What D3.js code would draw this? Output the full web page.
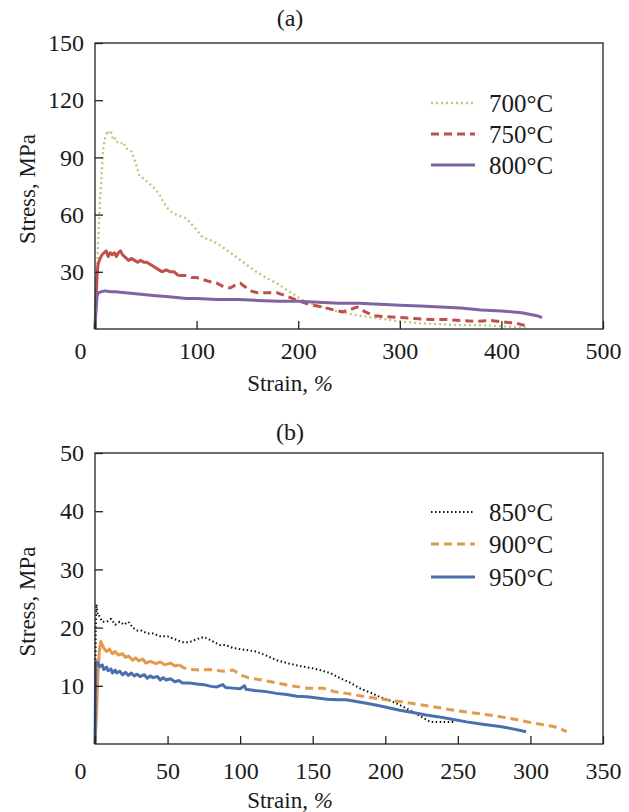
<!DOCTYPE html>
<html>
<head>
<meta charset="utf-8">
<script src="https://cdn.jsdelivr.net/npm/d3@7"></script>
<style>
  body { margin: 0; background: #fff; }
  text { font-family: "Liberation Serif", "Times New Roman", serif; fill: #1a1a1a; }
</style>
</head>
<body>
<script>
// panel (a): strain %, stress MPa
const s700 = [[0,0],[1,12],[2,27],[3,45],[5,68],[7,85],[8,94],[10,100],[12,104],[14,102],[16,103],[18,99],[20,100],[22,98],[25,97],[28,98],[30,95],[33,94],[36,93],[40,87],[44,80],[48,79],[52,77],[56,75],[60,73],[64,70],[68,66],[72,63],[76,61],[80,60],[85,59],[90,58],[95,55],[100,52],[106,48],[112,47],[120,45],[128,42],[136,39],[146,35],[156,31],[168,27],[179,24],[190,20],[205,15],[220,12],[240,9],[260,7],[280,5.5],[300,4],[320,3],[340,2.5],[360,2],[380,2],[400,1.5],[415,1],[425,0.5]];
const s750 = [[0,0],[1,15],[2,28],[3,34],[5,37],[7,39],[9,40],[11,41],[13,38],[15,40],[17,39],[19,40],[21,38],[23,40],[25,41],[27,39],[29,38],[31,37],[33,36],[36,37],[39,36],[42,35],[45,36],[48,35],[51,35],[54,34],[57,33],[60,32],[63,31],[66,30],[70,31],[74,30],[78,30],[82,28],[86,28],[90,28],[95,27],[100,27],[106,26],[112,25],[120,24],[127,22],[133,21.5],[138,23],[143,24],[148,22],[153,20],[160,19],[170,19],[179,19],[190,17],[199,15],[210,13],[224,11.5],[235,10],[244,9],[250,10],[258,11.5],[266,9],[274,7],[285,6.5],[300,6],[315,5.5],[330,5],[345,5],[360,4.5],[375,4],[390,4.5],[405,3.5],[415,3],[425,1.5]];
const s800 = [[0,0],[1,10],[2,17],[3,19],[6,19.5],[10,20],[15,19.5],[20,19.5],[30,19],[40,18.5],[50,18],[60,17.5],[70,17],[80,16.5],[90,16],[100,16],[120,15.5],[140,15.5],[160,15],[180,14.5],[200,14.5],[220,14],[240,13.5],[260,13.5],[280,13],[300,12.5],[320,12],[340,11.5],[360,11],[380,10],[400,9.5],[420,8.5],[435,7],[440,6]];

// panel (b)
const s850 = [[0,0],[0.5,20],[1,24],[2,22],[3,22],[5,21],[8,21],[11,21.5],[14,20.5],[17,21],[20,20.5],[23,21],[26,20],[29,19.5],[32,19.5],[36,19],[40,19],[45,18.5],[50,18.5],[55,18],[60,17.5],[65,17.5],[70,18],[75,18.4],[80,17.8],[86,17],[90,17],[95,16.5],[100,16.3],[111,15.9],[118,15.2],[125,14.4],[134,13.8],[143,13.3],[150,13],[155,12.7],[162,12.2],[169,11.3],[176,10.5],[183,9.5],[190,8.8],[197,8],[203,7.5],[210,6.7],[217,5.8],[224,4.8],[231,3.8],[240,3.8],[247,3.8]];
const s900 = [[0,0],[1,5],[2,12],[3,16],[4,17.6],[6,16.5],[8,15.9],[10,16.3],[12,15.5],[14,15.9],[16,15.3],[19,15.5],[21,14.9],[23,15.1],[26,14.4],[28,14.8],[30,14.3],[33,14.6],[35,13.9],[38,14.2],[42,13.8],[45,14.1],[48,13.6],[52,13.9],[55,13.4],[58,13.6],[61,13.1],[66,12.8],[72,12.7],[80,12.8],[88,12.5],[95,12.7],[101,11.8],[107,11.3],[115,11],[125,10.5],[135,10],[146,9.6],[157,9.6],[165,9],[173,8.7],[180,8.4],[187,8.1],[195,7.8],[203,7.5],[210,7.3],[220,6.9],[233,6.4],[245,5.9],[256,5.5],[268,5.1],[279,4.7],[290,4.2],[302,3.6],[309,3.3],[316,3],[321,2.6],[325,2.1]];
const s950 = [[0,0],[0.3,8],[0.6,14],[1.5,14.1],[3.4,13.3],[5,13.6],[6,12.8],[8,13.2],[9,12.6],[11,12.9],[12,12.2],[14,12.7],[15,12.2],[17,12.5],[19,11.9],[21,12.3],[23,11.8],[25,12.2],[27,11.7],[29,12],[31,11.6],[34,11.9],[36,11.3],[38,11.7],[40,11.4],[43,11.6],[45,11],[47,11.4],[49,11],[52,11.2],[55,10.7],[58,10.9],[60,10.5],[65,10.5],[70,10.3],[75,10.2],[80,9.9],[84,9.8],[88,10.2],[90,9.7],[95,9.6],[100,9.5],[103,10],[104,9.4],[110,9.2],[118,9],[125,8.7],[132,8.5],[139,8.2],[146,8.1],[153,7.9],[160,7.7],[167,7.6],[173,7.6],[180,7.3],[187,7],[195,6.6],[203,6.2],[210,5.8],[219,5.4],[228,5],[236,4.7],[245,4.3],[256,3.8],[267,3.4],[279,3],[288,2.6],[297,2.1]];

const xTicksA = [0, 100, 200, 300, 400, 500];
const yTicksA = [30, 60, 90, 120, 150];
const xTicksB = [0, 50, 100, 150, 200, 250, 300, 350];
const yTicksB = [10, 20, 30, 40, 50];

const seriesA = [
  { name: "700°C", data: s700, color: "#b7c97c", width: 2.3, dash: "2,3", solidUntil: 0 },
  { name: "750°C", data: s750, color: "#c0504d", width: 3, dash: "8,5", solidUntil: 82 },
  { name: "800°C", data: s800, color: "#8064a2", width: 3, dash: null, solidUntil: 0 }
];
const seriesB = [
  { name: "850°C", data: s850, color: "#111", width: 2, dash: "1.5,2.5", solidUntil: 0 },
  { name: "900°C", data: s900, color: "#e39a4c", width: 3, dash: "8,5", solidUntil: 60 },
  { name: "950°C", data: s950, color: "#4a6fad", width: 3, dash: null, solidUntil: 0 }
];

const svg = d3.select("body").append("svg")
  .attr("width", 629)
  .attr("height", 812);

function drawPanel(cfg) {
  const left = 95, right = 603;
  const x = d3.scaleLinear().domain([0, cfg.xMax]).range([left, right]);
  const y = d3.scaleLinear().domain([0, cfg.yMax]).range([cfg.bottom, cfg.top]);
  const g = svg.append("g");

  const line = d3.line().x(d => x(d[0])).y(d => y(d[1]));

  cfg.series.forEach(s => {
    if (s.solidUntil > 0) {
      const head = s.data.filter(d => d[0] <= s.solidUntil);
      const tail = s.data.filter(d => d[0] >= head[head.length - 1][0]);
      g.append("path").attr("d", line(head))
        .attr("fill", "none").attr("stroke", s.color).attr("stroke-width", s.width)
        .attr("stroke-linejoin", "round");
      g.append("path").attr("d", line(tail))
        .attr("fill", "none").attr("stroke", s.color).attr("stroke-width", s.width)
        .attr("stroke-dasharray", s.dash);
    } else {
      g.append("path").attr("d", line(s.data))
        .attr("fill", "none").attr("stroke", s.color).attr("stroke-width", s.width)
        .attr("stroke-linejoin", "round")
        .attr("stroke-dasharray", s.dash);
    }
  });

  // frame
  g.append("rect")
    .attr("x", left).attr("y", cfg.top)
    .attr("width", right - left).attr("height", cfg.bottom - cfg.top)
    .attr("fill", "none").attr("stroke", "#222").attr("stroke-width", 1.3);

  const xAxis = g.append("g")
    .attr("transform", `translate(0,${cfg.bottom})`)
    .call(d3.axisBottom(x).tickValues(cfg.xTicks).tickSize(-8).tickPadding(cfg.xPad).tickFormat(d3.format("d")));
  const yAxis = g.append("g")
    .attr("transform", `translate(${left},0)`)
    .call(d3.axisLeft(y).tickValues(cfg.yTicks).tickSize(-8).tickPadding(11).tickFormat(d3.format("d")));

  [xAxis, yAxis].forEach(a => {
    a.select(".domain").remove();
    a.selectAll(".tick line").attr("stroke", "#222").attr("stroke-width", 1.3);
    a.selectAll(".tick text")
      .attr("font-family", "Liberation Serif")
      .attr("font-size", 24)
      .attr("fill", "#1a1a1a");
  });
  xAxis.selectAll(".tick text").filter(d => d === 0).attr("dx", -15);

  // titles
  g.append("text")
    .attr("x", 290).attr("y", cfg.titleY)
    .attr("text-anchor", "middle").attr("dominant-baseline", "central")
    .attr("font-size", 24).text(cfg.title);

  const xl = g.append("text")
    .attr("x", 290).attr("y", cfg.xLabelY)
    .attr("text-anchor", "middle").attr("dominant-baseline", "central")
    .attr("font-size", 23);
  xl.append("tspan").text("Strain, ");
  xl.append("tspan").attr("font-style", "italic").text("%");

  g.append("text")
    .attr("transform", `translate(27,${(cfg.top + cfg.bottom) / 2 + 3}) rotate(-90)`)
    .attr("text-anchor", "middle").attr("dominant-baseline", "central")
    .attr("font-size", 23).text("Stress, MPa");

  // legend
  cfg.series.forEach((s, i) => {
    const ly = cfg.legendY[i];
    g.append("line")
      .attr("x1", 431).attr("x2", 475).attr("y1", ly).attr("y2", ly)
      .attr("stroke", s.color).attr("stroke-width", s.width)
      .attr("stroke-dasharray", s.dash);
    g.append("text")
      .attr("x", 489).attr("y", ly)
      .attr("dominant-baseline", "central")
      .attr("font-size", 25).text(s.name);
  });
}

drawPanel({
  top: 43, bottom: 329, xMax: 500, yMax: 150,
  xTicks: xTicksA, yTicks: yTicksA, xPad: 13,
  title: "(a)", titleY: 18, xLabelY: 383,
  series: seriesA, legendY: [103, 134, 165]
});

drawPanel({
  top: 453, bottom: 744, xMax: 350, yMax: 50,
  xTicks: xTicksB, yTicks: yTicksB, xPad: 18,
  title: "(b)", titleY: 432, xLabelY: 800,
  series: seriesB, legendY: [512, 544, 577]
});
</script>
</body>
</html>
